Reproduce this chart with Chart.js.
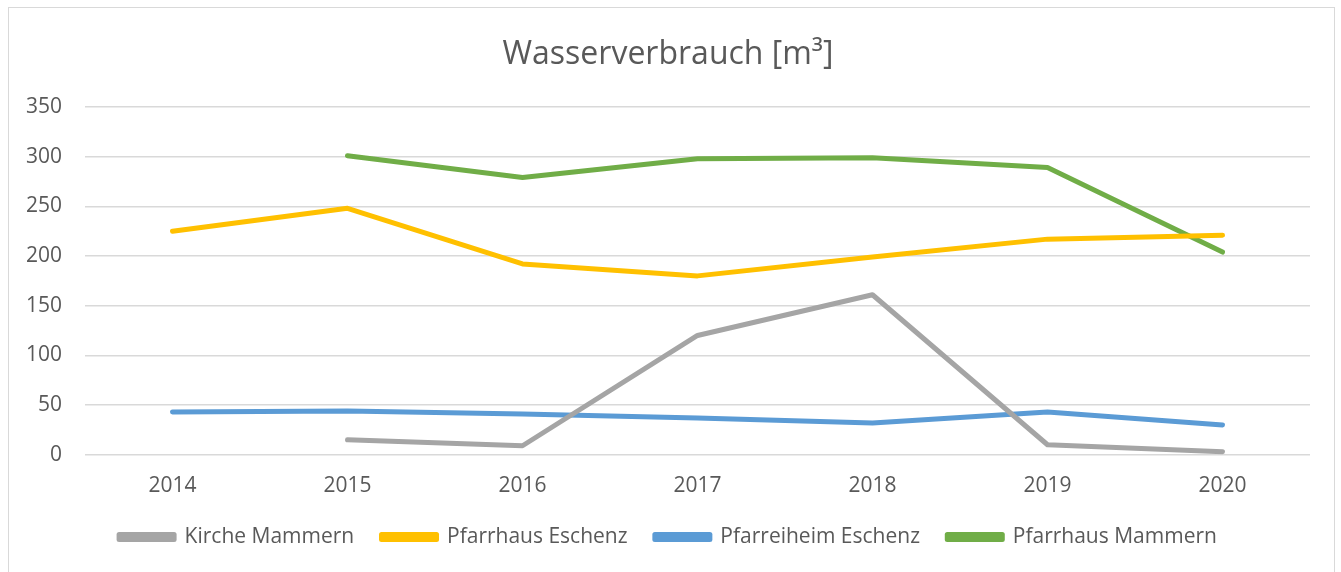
<!DOCTYPE html>
<html>
<head>
<meta charset="utf-8">
<script src="https://cdn.jsdelivr.net/npm/chart.js@4"></script>
<style>
  html, body { margin: 0; padding: 0; background: #fff; }
  #wrap { position: relative; width: 1341px; height: 572px; overflow: hidden; }
  #frame { position: absolute; left: 8px; top: 7px; width: 1325px; height: 600px;
           border: 1px solid #d9d9d9; pointer-events: none; }
  canvas { position: absolute; left: 0; top: 0; }
</style>
</head>
<body>
<div id="wrap">
  <canvas id="chart" width="1341" height="572"></canvas>
  <div id="frame"></div>
</div>
<script>
// Wasserverbrauch je Gebäude
const years = ['2014', '2015', '2016', '2017', '2018', '2019', '2020'];
const kircheMammern = [null, 15, 9, 120, 161, 10, 3];
const pfarrhausEschenz = [225, 248, 192, 180, 199, 217, 221];
const pfarreiheimEschenz = [43, 44, 41, 37, 32, 43, 30];
const pfarrhausMammern = [null, 301, 279, 298, 299, 289, 204];

const font = '"Open Sans", "Noto Sans", sans-serif';
const textColor = '#595959';

function line(label, data, color) {
  return {
    label,
    data,
    borderColor: color,
    backgroundColor: color,
    borderWidth: 5,
    borderCapStyle: 'round',
    borderJoinStyle: 'round',
    pointRadius: 0,
    tension: 0,
    spanGaps: false,
  };
}

new Chart(document.getElementById('chart'), {
  type: 'line',
  data: {
    labels: years,
    datasets: [
      line('Kirche Mammern', kircheMammern, '#A5A5A5'),
      line('Pfarrhaus Eschenz', pfarrhausEschenz, '#FFC000'),
      line('Pfarreiheim Eschenz', pfarreiheimEschenz, '#5B9BD5'),
      line('Pfarrhaus Mammern', pfarrhausMammern, '#70AD47'),
    ],
  },
  options: {
    responsive: false,
    animation: false,
    layout: { padding: { left: 26, right: 31, top: 28, bottom: 14.5 } },
    plugins: {
      tooltip: { enabled: false },
      title: {
        display: true,
        text: 'Wasserverbrauch [m³]',
        color: textColor,
        font: { family: font, size: 32, weight: 'normal' },
        padding: { top: 8, bottom: 32.6 },
      },
      legend: {
        position: 'bottom',
        labels: {
          color: textColor,
          font: { family: font, size: 21 },
          boxWidth: 55,
          boxHeight: 5,
          padding: 27.3,
        },
      },
    },
    scales: {
      x: {
        offset: true,
        grid: { display: false, drawTicks: false },
        border: { display: false },
        ticks: { color: textColor, font: { family: font, size: 21 }, padding: 19, maxRotation: 0 },
        afterFit(s) { s.height = 44.5; },
      },
      y: {
        min: 0,
        max: 350,
        ticks: { stepSize: 50, color: textColor, font: { family: font, size: 21 }, padding: 23 },
        grid: { color: '#d9d9d9', lineWidth: 1.5, drawTicks: false },
        border: { display: false },
        afterFit(s) { s.width = 59; },
      },
    },
  },
});
</script>
</body>
</html>
